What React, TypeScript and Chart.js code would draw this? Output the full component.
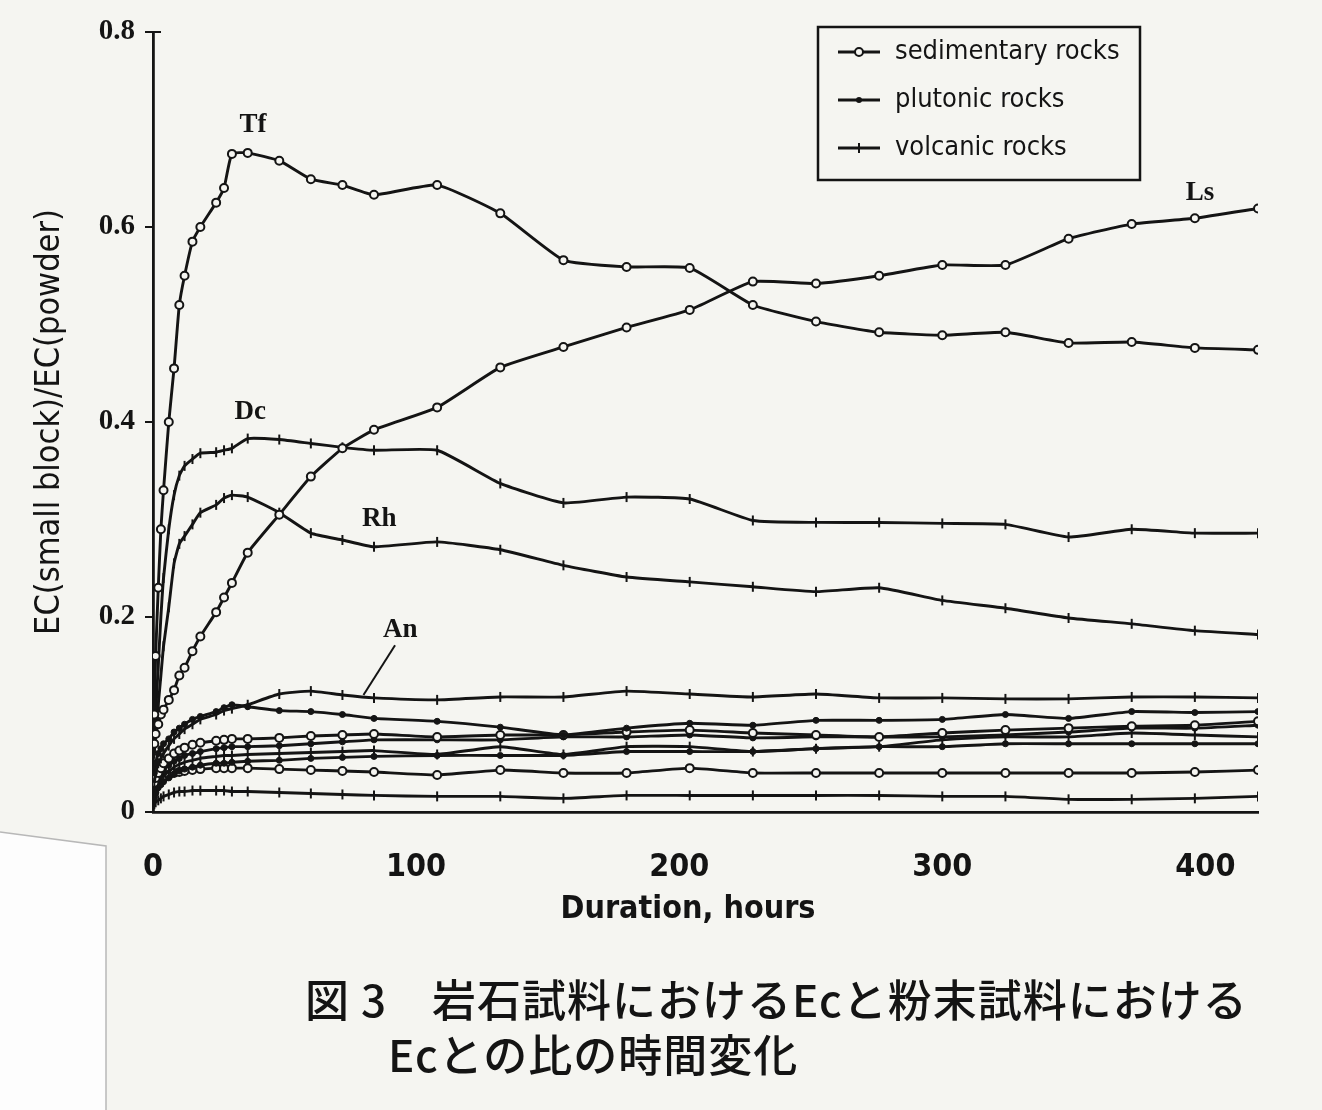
import React, { useEffect, useRef } from "react";
import { Chart, registerables } from "chart.js";

Chart.register(...registerables);

// ---------- data ----------
const hours = [
  0.5, 1, 2, 3, 4, 6, 8, 10, 12, 15, 18, 24, 27, 30, 36, 48, 60, 72, 84,
  108, 132, 156, 180, 204, 228, 252, 276, 300, 324, 348, 372, 396, 420,
];

const tf = [
  0.1, 0.16, 0.23, 0.29, 0.33, 0.4, 0.455, 0.52, 0.55, 0.585, 0.6, 0.625, 0.64, 0.675, 0.676, 0.668, 0.649, 0.643, 0.633,
  0.643, 0.614, 0.566, 0.559, 0.558, 0.52, 0.503, 0.492, 0.489, 0.492, 0.481, 0.482, 0.476, 0.474,
];
const ls = [
  0.07, 0.08, 0.09, 0.1, 0.105, 0.115, 0.125, 0.14, 0.148, 0.165, 0.18, 0.205, 0.22, 0.235, 0.266, 0.305, 0.344, 0.373, 0.392,
  0.415, 0.456, 0.477, 0.497, 0.515, 0.544, 0.542, 0.55, 0.561, 0.561, 0.588, 0.603, 0.609, 0.619,
];
const dc = [
  0.07, 0.1, 0.15, 0.2, 0.24, 0.29, 0.325, 0.345, 0.355, 0.362, 0.368, 0.369, 0.371, 0.373, 0.383, 0.382, 0.378, 0.374, 0.371,
  0.371, 0.337, 0.317, 0.323, 0.321, 0.299, 0.297, 0.297, 0.296, 0.295, 0.282, 0.29, 0.286, 0.286,
];
const rh = [
  0.06, 0.08, 0.11, 0.14, 0.17, 0.21, 0.255, 0.275, 0.283, 0.295, 0.307, 0.315, 0.322, 0.325, 0.323, 0.307, 0.286, 0.279, 0.272,
  0.277, 0.269, 0.253, 0.241, 0.236, 0.231, 0.226, 0.23, 0.217, 0.209, 0.199, 0.193, 0.186, 0.182,
];
const an = [
  0.03, 0.04, 0.05, 0.055, 0.06, 0.068, 0.075, 0.08, 0.085, 0.09, 0.095, 0.1, 0.104, 0.106, 0.11, 0.121, 0.124, 0.12, 0.117,
  0.115, 0.118, 0.118, 0.124, 0.121, 0.118, 0.121, 0.117, 0.117, 0.116, 0.116, 0.118, 0.118, 0.117,
];
const rockB = [
  0.04, 0.05, 0.06, 0.065, 0.07, 0.075, 0.082, 0.086, 0.09, 0.095, 0.098, 0.103, 0.107, 0.11, 0.108, 0.104, 0.103, 0.1, 0.096,
  0.093, 0.087, 0.079, 0.086, 0.091, 0.089, 0.094, 0.094, 0.095, 0.1, 0.096, 0.103, 0.102, 0.103,
];
const rockC = [
  0.03, 0.035, 0.04, 0.045, 0.05, 0.055, 0.06, 0.063, 0.066, 0.069, 0.071, 0.073, 0.074, 0.075, 0.075, 0.076, 0.078, 0.079, 0.08,
  0.077, 0.079, 0.079, 0.082, 0.084, 0.081, 0.079, 0.077, 0.081, 0.084, 0.086, 0.088, 0.089, 0.093,
];
const rockD = [
  0.025, 0.03, 0.035, 0.04, 0.043, 0.048, 0.052, 0.055, 0.058, 0.06, 0.062, 0.065, 0.066, 0.067, 0.067, 0.068, 0.07, 0.072, 0.074,
  0.074, 0.074, 0.077, 0.077, 0.079, 0.076, 0.077, 0.077, 0.077, 0.079, 0.082, 0.086, 0.086, 0.089,
];
const rockE = [
  0.02, 0.025, 0.03, 0.034, 0.037, 0.042, 0.046, 0.049, 0.051, 0.053, 0.055, 0.057, 0.058, 0.058, 0.059, 0.06, 0.061, 0.062, 0.063,
  0.059, 0.067, 0.059, 0.067, 0.067, 0.062, 0.065, 0.067, 0.074, 0.077, 0.077, 0.081, 0.079, 0.077,
];
const rockF = [
  0.015, 0.02, 0.025, 0.028, 0.031, 0.035, 0.039, 0.042, 0.044, 0.046, 0.048, 0.05, 0.05, 0.051, 0.052, 0.053, 0.055, 0.056, 0.057,
  0.058, 0.058, 0.058, 0.062, 0.062, 0.062, 0.065, 0.067, 0.067, 0.07, 0.07, 0.07, 0.07, 0.07,
];
const rockG = [
  0.02, 0.025, 0.03, 0.033, 0.035, 0.038, 0.04, 0.041, 0.042, 0.043, 0.044, 0.045, 0.045, 0.045, 0.045, 0.044, 0.043, 0.042, 0.041,
  0.038, 0.043, 0.04, 0.04, 0.045, 0.04, 0.04, 0.04, 0.04, 0.04, 0.04, 0.04, 0.041, 0.043,
];
const rockH = [
  0.008, 0.01, 0.012, 0.014, 0.016, 0.018, 0.02, 0.021, 0.021, 0.022, 0.022, 0.022, 0.022, 0.021, 0.021, 0.02, 0.019, 0.018, 0.017,
  0.016, 0.016, 0.014, 0.017, 0.017, 0.017, 0.017, 0.017, 0.016, 0.016, 0.013, 0.013, 0.014, 0.016,
];

const seriesNames = ["Tf", "Ls", "Dc", "Rh", "An", "B", "C", "D", "E", "F", "G", "H"];
const seriesValues = [tf, ls, dc, rh, an, rockB, rockC, rockD, rockE, rockF, rockG, rockH];
const seriesTypes = [
  "sedimentary", "sedimentary", "volcanic", "volcanic", "volcanic", "plutonic",
  "sedimentary", "plutonic", "volcanic", "plutonic", "sedimentary", "volcanic",
];

const legendTypes = ["sedimentary", "plutonic", "volcanic"];
const legendLabels = ["sedimentary rocks", "plutonic rocks", "volcanic rocks"];

const xTickValues = [0, 100, 200, 300, 400];
const yTickValues = [0, 0.2, 0.4, 0.6, 0.8];

const curveLabels = ["Tf", "Dc", "Rh", "An", "Ls"];
const curveLabelHours = [38, 37, 86, 94, 398];
const curveLabelValues = [0.705, 0.41, 0.3, 0.187, 0.635];

const xTitle = "Duration, hours";
const yTitle = "EC(small block)/EC(powder)";
const captionLine1 = "図 3\u3000岩石試料におけるEcと粉末試料における";
const captionLine2 = "Ecとの比の時間変化";

// ---------- styling ----------
const W = 1322;
const H = 1110;
const INK = "#141414";
const PAPER = "#f5f5f1";
const NARROW = "'Liberation Sans Narrow', 'DejaVu Sans Condensed', 'Liberation Sans', sans-serif";
const SERIF = "'Liberation Serif', 'DejaVu Serif', serif";

function drawMarker(ctx: CanvasRenderingContext2D, type: string, x: number, y: number) {
  ctx.save();
  ctx.strokeStyle = INK;
  ctx.fillStyle = INK;
  if (type === "sedimentary") {
    ctx.lineWidth = 2;
    ctx.beginPath();
    ctx.arc(x, y, 4, 0, Math.PI * 2);
    ctx.fillStyle = PAPER;
    ctx.fill();
    ctx.stroke();
  } else if (type === "plutonic") {
    ctx.beginPath();
    ctx.arc(x, y, 3, 0, Math.PI * 2);
    ctx.fill();
  } else {
    ctx.lineWidth = 2;
    ctx.beginPath();
    ctx.moveTo(x, y - 5);
    ctx.lineTo(x, y + 5);
    ctx.stroke();
  }
  ctx.restore();
}

const paperPlugin = {
  id: "paper",
  beforeDraw(chart: any) {
    const ctx: CanvasRenderingContext2D = chart.ctx;
    ctx.save();
    ctx.fillStyle = PAPER;
    ctx.fillRect(0, 0, chart.width, chart.height);
    ctx.fillStyle = "#fdfdfd";
    ctx.beginPath();
    ctx.moveTo(0, 832);
    ctx.lineTo(106, 846);
    ctx.lineTo(106, H);
    ctx.lineTo(0, H);
    ctx.closePath();
    ctx.fill();
    ctx.strokeStyle = "#b8b8b8";
    ctx.lineWidth = 1.5;
    ctx.beginPath();
    ctx.moveTo(0, 832);
    ctx.lineTo(106, 846);
    ctx.lineTo(106, H);
    ctx.stroke();
    ctx.restore();
  },
};

const annotationPlugin = {
  id: "annotations",
  afterDraw(chart: any) {
    const ctx: CanvasRenderingContext2D = chart.ctx;
    const xs = chart.scales.x;
    const ys = chart.scales.y;
    const area = chart.chartArea;
    ctx.save();
    // stub at top of y axis
    ctx.strokeStyle = INK;
    ctx.lineWidth = 2;
    ctx.beginPath();
    ctx.moveTo(area.left, area.top);
    ctx.lineTo(area.left + 8, area.top);
    ctx.stroke();

    // curve labels
    ctx.fillStyle = INK;
    ctx.font = `bold 27px ${SERIF}`;
    ctx.textAlign = "center";
    ctx.textBaseline = "middle";
    curveLabels.forEach((t, i) => {
      ctx.fillText(t, xs.getPixelForValue(curveLabelHours[i]), ys.getPixelForValue(curveLabelValues[i]));
    });
    // An pointer
    ctx.lineWidth = 2;
    ctx.beginPath();
    ctx.moveTo(xs.getPixelForValue(92), ys.getPixelForValue(0.171));
    ctx.lineTo(xs.getPixelForValue(80), ys.getPixelForValue(0.12));
    ctx.stroke();

    // x title
    ctx.font = `bold 32px ${NARROW}`;
    ctx.fillText(xTitle, 688, 910);

    // legend box
    ctx.lineWidth = 2.5;
    ctx.strokeRect(818, 27, 322, 153);
    ctx.font = `27px ${NARROW}`;
    ctx.textAlign = "left";
    legendLabels.forEach((t, i) => {
      const y = 52 + i * 48;
      ctx.lineWidth = 2.8;
      ctx.beginPath();
      ctx.moveTo(838, y);
      ctx.lineTo(880, y);
      ctx.stroke();
      drawMarker(ctx, legendTypes[i], 859, y);
      ctx.fillStyle = INK;
      ctx.fillText(t, 895, y);
    });
    ctx.restore();
  },
};

function markerOptions(type: string) {
  if (type === "sedimentary") {
    return { pointStyle: "circle", pointRadius: 4, pointBackgroundColor: PAPER, pointBorderWidth: 2, pointRotation: 0 };
  }
  if (type === "plutonic") {
    return { pointStyle: "circle", pointRadius: 3, pointBackgroundColor: INK, pointBorderWidth: 1, pointRotation: 0 };
  }
  return { pointStyle: "line", pointRadius: 5, pointBackgroundColor: INK, pointBorderWidth: 2, pointRotation: 90 };
}

export default function App() {
  const ref = useRef<HTMLCanvasElement>(null);

  useEffect(() => {
    document.body.style.margin = "0";
    const datasets = seriesNames.map((name, i) => ({
      label: name,
      data: hours.map((h, j) => ({ x: h, y: seriesValues[i][j] })),
      borderColor: INK,
      borderWidth: 2.9,
      pointBorderColor: INK,
      tension: 0.15,
      ...markerOptions(seriesTypes[i]),
    }));

    const chart = new Chart(ref.current as HTMLCanvasElement, {
      type: "line",
      data: { datasets } as any,
      options: {
        responsive: false,
        animation: false,
        devicePixelRatio: 1,
        layout: { padding: { left: 0, right: 64, top: 32, bottom: 178 } },
        plugins: { legend: { display: false }, tooltip: { enabled: false }, title: { display: false } },
        scales: {
          x: {
            type: "linear",
            min: 0,
            max: 420,
            afterFit: (s: any) => {
              s.height = 120;
            },
            afterBuildTicks: (s: any) => {
              s.ticks = xTickValues.map((v) => ({ value: v }));
            },
            grid: { drawOnChartArea: false, drawTicks: false },
            border: { display: true, color: INK, width: 2.8 },
            ticks: {
              color: INK,
              padding: 36,
              maxRotation: 0,
              font: { family: NARROW, size: 32, weight: "bold" },
              callback: (v: any) => String(v),
            },
            title: { display: false },
          },
          y: {
            type: "linear",
            min: 0,
            max: 0.8,
            afterFit: (s: any) => {
              s.width = 153;
            },
            afterBuildTicks: (s: any) => {
              s.ticks = yTickValues.map((v) => ({ value: v }));
            },
            grid: { drawOnChartArea: false, drawTicks: true, tickLength: 8, color: INK, lineWidth: 2 },
            border: { display: true, color: INK, width: 2.8 },
            ticks: {
              color: INK,
              padding: 10,
              font: { family: SERIF, size: 29, weight: "bold" },
              callback: (v: any) => (v === 0 ? "0" : Number(v).toFixed(1)),
            },
            title: {
              display: true,
              text: yTitle,
              color: INK,
              font: { family: NARROW, size: 34 },
              padding: { top: 30, bottom: 0 },
            },
          },
        },
      },
      plugins: [paperPlugin, annotationPlugin],
    } as any);
    return () => chart.destroy();
  }, []);

  const captionStyle: React.CSSProperties = {
    position: "absolute",
    margin: 0,
    fontFamily: "'Noto Sans CJK JP', 'Noto Sans CJK SC', sans-serif",
    fontWeight: 500,
    fontSize: 44,
    letterSpacing: 1,
    lineHeight: "50px",
    color: INK,
    whiteSpace: "pre",
  };

  return (
    <div style={{ position: "absolute", left: 0, top: 0, width: W, height: H, overflow: "hidden", background: PAPER }}>
      <canvas ref={ref} width={W} height={H} style={{ display: "block", width: W, height: H }} />
      <div style={{ ...captionStyle, left: 305, top: 973 }}>{captionLine1}</div>
      <div style={{ ...captionStyle, left: 388, top: 1028 }}>{captionLine2}</div>
    </div>
  );
}
